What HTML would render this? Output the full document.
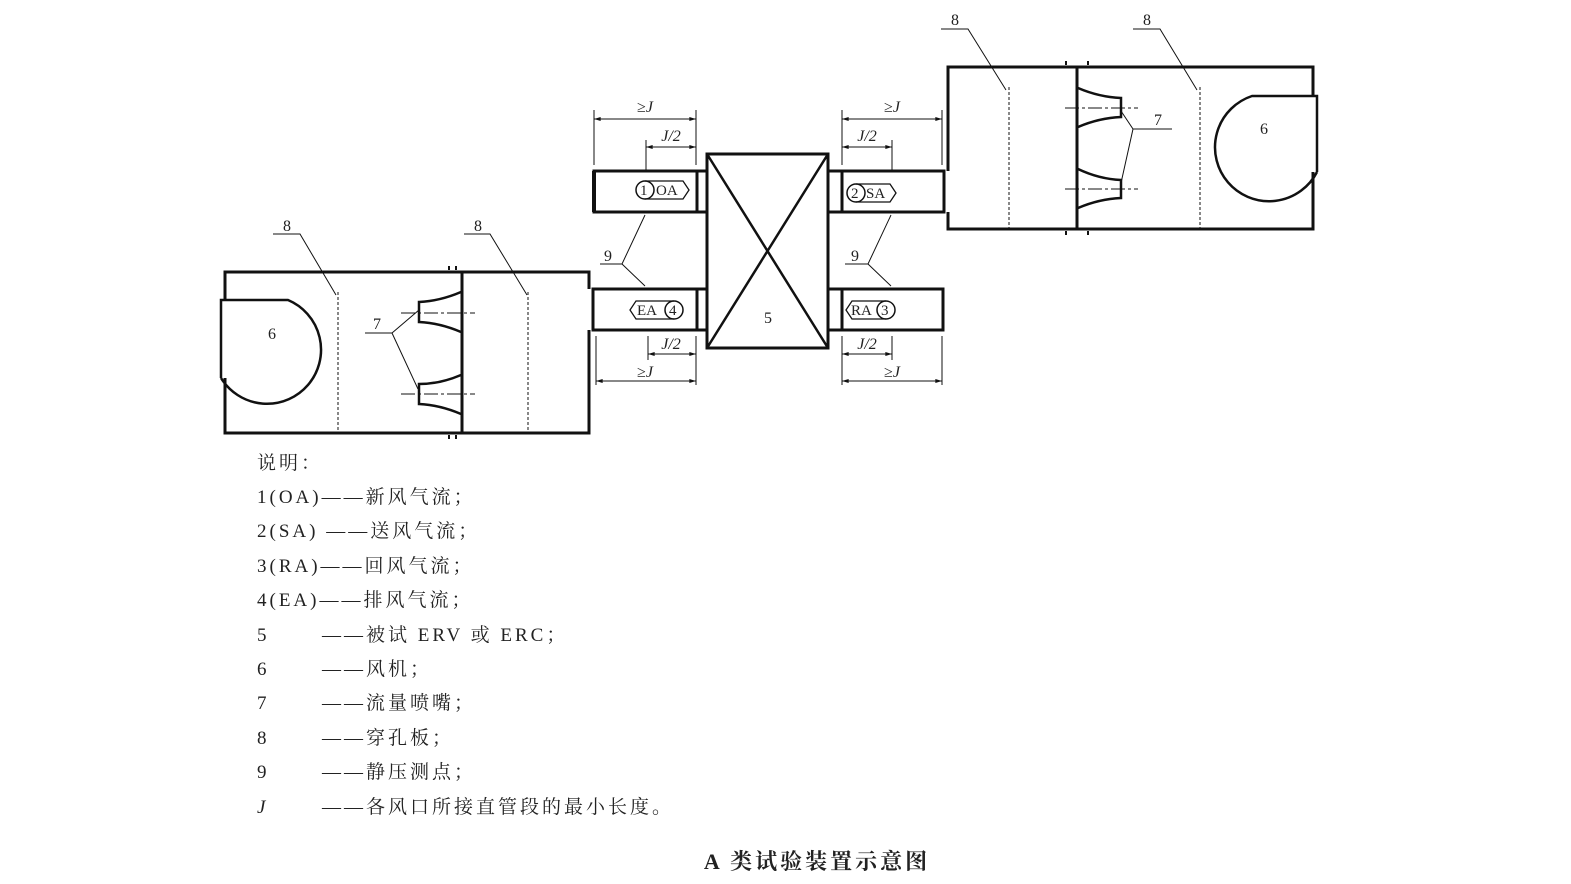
<!DOCTYPE html>
<html><head><meta charset="utf-8"><style>
html,body{margin:0;padding:0;background:#fff;}
svg{display:block;}
text{font-family:"Liberation Serif","Noto Serif CJK SC","Noto Sans CJK SC",serif;fill:#222;}
</style></head><body>
<svg width="1571" height="884" viewBox="0 0 1571 884" xmlns="http://www.w3.org/2000/svg">
<defs>
<marker id="ar" viewBox="0 0 10 6" refX="10" refY="3" markerWidth="10" markerHeight="4" orient="auto-start-reverse" markerUnits="userSpaceOnUse"><path d="M0,0 L10,3 L0,6z" fill="#111"/></marker>
</defs>
<g stroke="#111" fill="none">
<path d="M225,300 V272 H589 V289 M589,330 V433 H225 V378" stroke-width="3"/>
<line x1="462" y1="272" x2="462" y2="433" stroke-width="3"/>
<line x1="338" y1="292" x2="338" y2="433" stroke-width="1" stroke-dasharray="3,2"/>
<line x1="528" y1="292" x2="528" y2="433" stroke-width="1" stroke-dasharray="3,2"/>
<path d="M221,378 V300 H288 A54,54 0 1 1 221,378" stroke-width="2.5"/>
<path d="M461,292 Q440,301 419,302 V322 Q440,323 461,332" stroke-width="2.5"/>
<path d="M461,375 Q440,384 419,384 V404 Q440,405 461,414" stroke-width="2.5"/>
<line x1="401" y1="313" x2="475" y2="313" stroke-width="1" stroke-dasharray="14,3,3,3"/>
<line x1="401" y1="394" x2="475" y2="394" stroke-width="1" stroke-dasharray="14,3,3,3"/>
<path d="M449,270 v-4 M456,270 v-4 M449,435 v4 M456,435 v4" stroke-width="2"/>
<path d="M948,171 V67 H1313 V96 M1313,172 V229 H948 V212" stroke-width="3"/>
<line x1="1077" y1="67" x2="1077" y2="229" stroke-width="3"/>
<line x1="1009" y1="87" x2="1009" y2="229" stroke-width="1" stroke-dasharray="3,2"/>
<line x1="1200" y1="87" x2="1200" y2="229" stroke-width="1" stroke-dasharray="3,2"/>
<path d="M1317,172 V96 H1252 A54,54 0 1 0 1317,172" stroke-width="2.5"/>
<path d="M1078,88 Q1099,97 1121,98 V117 Q1099,118 1078,127" stroke-width="2.5"/>
<path d="M1078,169 Q1099,179 1121,180 V198 Q1099,199 1078,208" stroke-width="2.5"/>
<line x1="1065" y1="108" x2="1138" y2="108" stroke-width="1" stroke-dasharray="14,3,3,3"/>
<line x1="1065" y1="189" x2="1138" y2="189" stroke-width="1" stroke-dasharray="14,3,3,3"/>
<path d="M1066,65 v-4 M1088,65 v-4 M1066,231 v4 M1088,231 v4" stroke-width="2"/>
<rect x="707" y="154" width="121" height="194" stroke-width="3"/>
<path d="M707,154 L828,348 M828,154 L707,348" stroke-width="2.5"/>
<path d="M707,171 H594 V212 H707" stroke-width="3"/>
<line x1="594" y1="171" x2="594" y2="212" stroke-width="4"/>
<line x1="697" y1="171" x2="697" y2="212" stroke-width="3"/>
<path d="M707,289 H593 V330 H707" stroke-width="3"/>
<line x1="697" y1="289" x2="697" y2="330" stroke-width="3"/>
<path d="M828,171 H944 V212 H828" stroke-width="3"/>
<line x1="842" y1="171" x2="842" y2="212" stroke-width="3"/>
<path d="M828,289 H943 V330 H828" stroke-width="3"/>
<line x1="842" y1="289" x2="842" y2="330" stroke-width="3"/>
<circle cx="645" cy="190" r="9" stroke-width="1.5"/>
<path d="M645,181 H683 L689,190 L683,199 H645" stroke-width="1.3"/>
<circle cx="856" cy="193" r="9" stroke-width="1.5"/>
<path d="M856,184 H890 L896,193 L890,202 H856" stroke-width="1.3"/>
<circle cx="674" cy="310" r="9" stroke-width="1.5"/>
<path d="M674,301 H636 L630,310 L636,319 H674" stroke-width="1.3"/>
<circle cx="886" cy="310" r="9" stroke-width="1.5"/>
<path d="M886,301 H852 L846,310 L852,319 H886" stroke-width="1.3"/>
<g stroke-width="1">
<path d="M594,110 V165 M696,110 V165 M646,140 V171"/>
<path d="M842,110 V165 M942,110 V165 M892,140 V171"/>
<path d="M596,336 V385 M696,336 V385 M648,336 V360 M842,336 V385 M942,336 V385 M892,336 V360"/>
<line x1="594" y1="119" x2="696" y2="119" marker-start="url(#ar)" marker-end="url(#ar)"/>
<line x1="646" y1="147" x2="696" y2="147" marker-start="url(#ar)" marker-end="url(#ar)"/>
<line x1="842" y1="119" x2="942" y2="119" marker-start="url(#ar)" marker-end="url(#ar)"/>
<line x1="842" y1="147" x2="892" y2="147" marker-start="url(#ar)" marker-end="url(#ar)"/>
<line x1="648" y1="354" x2="696" y2="354" marker-start="url(#ar)" marker-end="url(#ar)"/>
<line x1="596" y1="381" x2="696" y2="381" marker-start="url(#ar)" marker-end="url(#ar)"/>
<line x1="842" y1="354" x2="892" y2="354" marker-start="url(#ar)" marker-end="url(#ar)"/>
<line x1="842" y1="381" x2="942" y2="381" marker-start="url(#ar)" marker-end="url(#ar)"/>
<path d="M273,234 H300 L336,295 M464,234 H490 L527,295"/>
<path d="M941,29 H968 L1006,90 M1133,29 H1160 L1197,90"/>
<path d="M365,333 H392 L419,310 M392,333 L418,389"/>
<path d="M1172,129 H1133 L1121,111 M1133,129 L1121,183"/>
<path d="M600,264 H622 L645,215 M622,264 L645,286"/>
<path d="M845,264 H868 L891,215 M868,264 L891,286"/>
</g>
</g>
<g font-size="16" text-anchor="middle">
<text x="287" y="231">8</text><text x="478" y="231">8</text>
<text x="955" y="25">8</text><text x="1147" y="25">8</text>
<text x="377" y="329">7</text><text x="1158" y="125">7</text>
<text x="608" y="261">9</text><text x="855" y="261">9</text>
<text x="272" y="339" font-family="Liberation Sans">6</text>
<text x="1264" y="134" font-family="Liberation Sans">6</text>
<text x="768" y="323" font-family="Liberation Sans">5</text>
<text x="645" y="112" font-style="italic">≥J</text>
<text x="892" y="112" font-style="italic">≥J</text>
<text x="671" y="141" font-style="italic">J/2</text>
<text x="867" y="141" font-style="italic">J/2</text>
<text x="671" y="349" font-style="italic">J/2</text>
<text x="867" y="349" font-style="italic">J/2</text>
<text x="645" y="377" font-style="italic">≥J</text>
<text x="892" y="377" font-style="italic">≥J</text>
</g>
<g font-size="15">
<text x="640" y="195">1</text><text x="656" y="195">OA</text>
<text x="851" y="198">2</text><text x="866" y="198">SA</text>
<text x="637" y="315">EA</text><text x="669" y="315">4</text>
<text x="851" y="315">RA</text><text x="881" y="315">3</text>
</g>
<g font-size="19" letter-spacing="3">
<text x="257" y="469">说明：</text>
<text x="257" y="503">1(OA)——新风气流；</text>
<text x="257" y="537">2(SA) ——送风气流；</text>
<text x="257" y="572">3(RA)——回风气流；</text>
<text x="257" y="606">4(EA)——排风气流；</text>
<text x="257" y="641">5</text><text x="322" y="641">——被试 ERV 或 ERC；</text>
<text x="257" y="675">6</text><text x="322" y="675">——风机；</text>
<text x="257" y="709">7</text><text x="322" y="709">——流量喷嘴；</text>
<text x="257" y="744">8</text><text x="322" y="744">——穿孔板；</text>
<text x="257" y="778">9</text><text x="322" y="778">——静压测点；</text>
<text x="257" y="813" font-style="italic">J</text><text x="322" y="813">——各风口所接直管段的最小长度。</text>
</g>
<text x="817" y="869" font-size="22" font-weight="bold" letter-spacing="3" text-anchor="middle">A 类试验装置示意图</text>
</svg>
</body></html>
